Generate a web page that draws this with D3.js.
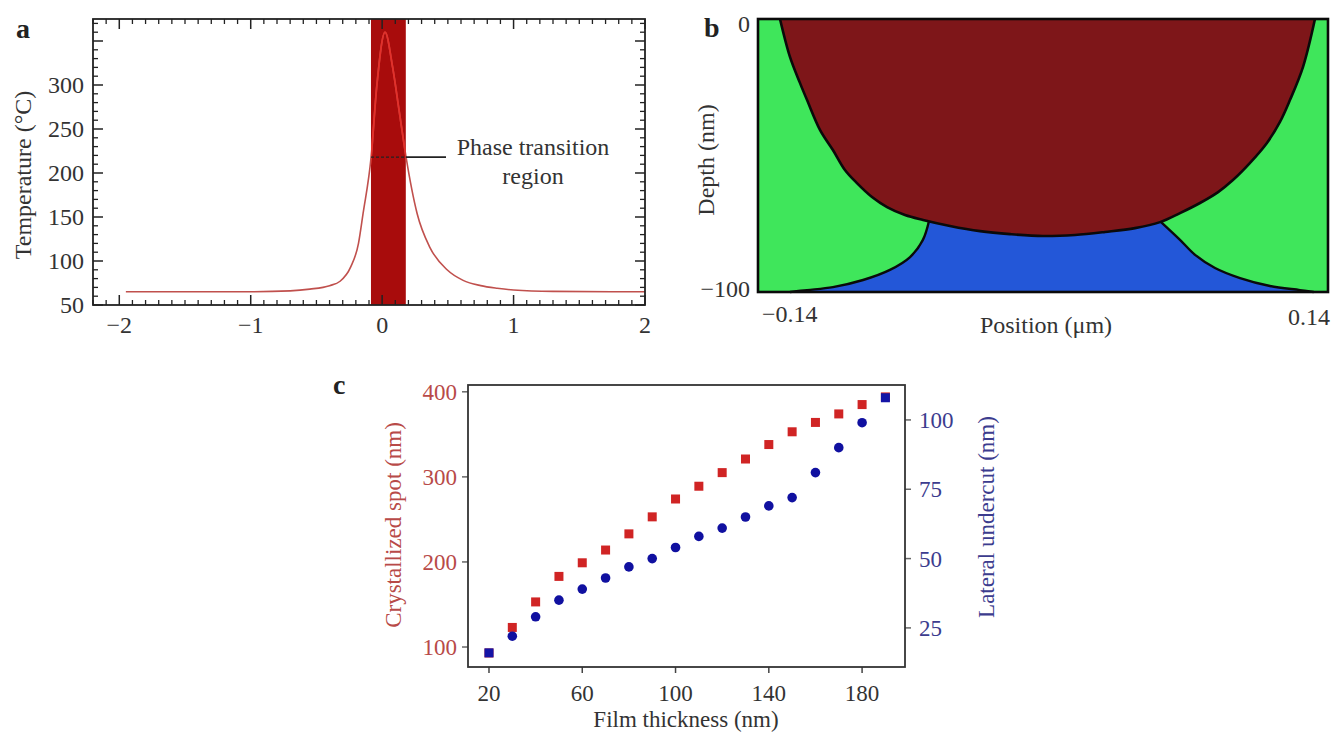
<!DOCTYPE html>
<html><head><meta charset="utf-8">
<script src="https://cdn.jsdelivr.net/npm/d3@7"></script>
<style>
html,body{margin:0;padding:0;background:#fff;}
svg{display:block;font-family:"Liberation Serif","Times New Roman",serif;}
</style></head>
<body>
<svg id="chart" width="1331" height="733"></svg>
<script>
// ---------- Panel a data ----------
const aTempX = [-1.95,-1.0,-0.7,-0.55,-0.4,-0.32,-0.24,-0.18,-0.145,-0.084,-0.04,0.022,0.08,0.13,0.182,0.266,0.365,0.494,0.616,0.75,0.875,1.0,1.3,2.0];
const aTempY = [65,65,66,68,72,77,93,120,154,218,300,360,320,270,218,154,115,90,78,72,69,67,65.5,65];
const aBand = [-0.085, 0.18];
const aTransitionT = 218;
const aXTicks = [-2,-1,0,1,2];
const aYTicks = [50,100,150,200,250,300];

// ---------- Panel b data (phase map boundaries) ----------
const bRedX = [-0.1292,-0.1243,-0.1194,-0.1159,-0.1095,-0.1032,-0.0973,-0.0914,-0.0840,-0.0766,-0.0678,-0.0589,-0.0457,-0.0309,-0.0162,0.0,0.0157,0.0305,0.0452,0.0575,0.0673,0.0771,0.0860,0.0933,0.1017,0.1100,0.1164,0.1213,0.1277,0.1336];
const bRedY = [0,-13.9,-23.4,-29.7,-40.7,-48.0,-55.3,-60.1,-65.2,-68.9,-71.8,-73.6,-75.8,-77.7,-78.8,-79.5,-79.1,-78.0,-76.6,-74.4,-71.1,-67.4,-63.4,-59.0,-52.7,-45.4,-37.7,-29.7,-17.6,0];
const bGreenLeftX = [-0.056,-0.059,-0.0653,-0.0752,-0.0884,-0.1032,-0.1159,-0.1243];
const bGreenLeftY = [-74,-80.9,-87.2,-91.9,-95.6,-98.2,-99.3,-100];
const bGreenRightX = [0.058,0.0673,0.0747,0.0845,0.0968,0.1115,0.1262,0.133];
const bGreenRightY = [-74.4,-80.9,-86.4,-91.2,-94.9,-97.8,-99.3,-100];
const bXTicks = [-0.14, 0.14];
const bYTicks = [0, -100];

// ---------- Panel c data ----------
const cThickness = [20,30,40,50,60,70,80,90,100,110,120,130,140,150,160,170,180,190];
const cSpot = [93,123,153,183,199,214,233,253,274,289,305,321,338,353,364,374,385,394];
const cUndercut = [16,22,29,35,39,43,47,50,54,58,61,65,69,72,81,90,99,108];
const cXTicks = [20,60,100,140,180];
const cLeftTicks = [100,200,300,400];
const cRightTicks = [25,50,75,100];

const svg = d3.select("#chart");
svg.append("rect").attr("width",1331).attr("height",733).attr("fill","#fff");
const fmt = v => (v<0 ? "\u2212" + Math.abs(v) : String(v));

function vTicks(g, vals, sc, y0, len, col, w){
  g.append("g").selectAll("line").data(vals).join("line")
   .attr("x1",d=>sc(d)).attr("x2",d=>sc(d)).attr("y1",y0).attr("y2",y0+len)
   .attr("stroke",col).attr("stroke-width",w);
}
function hTicks(g, vals, sc, x0, len, col, w){
  g.append("g").selectAll("line").data(vals).join("line")
   .attr("y1",d=>sc(d)).attr("y2",d=>sc(d)).attr("x1",x0).attr("x2",x0+len)
   .attr("stroke",col).attr("stroke-width",w);
}

// ================= Panel a =================
{
  const L=93,R=645,T=19,B=305;
  const x = d3.scaleLinear().domain([-2.2,2.0]).range([L,R]);
  const y = d3.scaleLinear().domain([50,375]).range([B,T]);
  const g = svg.append("g");
  const pts = aTempX.map((v,i)=>[v,aTempY[i]]);
  const line = d3.line().x(d=>x(d[0])).y(d=>y(d[1])).curve(d3.curveMonotoneX);

  g.append("rect").attr("x",x(aBand[0])).attr("y",T).attr("width",x(aBand[1])-x(aBand[0])).attr("height",B-T).attr("fill","#a80c0c");
  g.append("path").attr("d",line(pts)).attr("fill","none").attr("stroke","#c0504d").attr("stroke-width",1.6);
  svg.append("clipPath").attr("id","bandclip").append("rect").attr("x",x(aBand[0])).attr("y",T).attr("width",x(aBand[1])-x(aBand[0])).attr("height",B-T);
  g.append("path").attr("d",line(pts)).attr("fill","none").attr("stroke","#e3302a").attr("stroke-width",1.8).attr("clip-path","url(#bandclip)");

  const minorX = d3.range(-22,21).map(v=>v/10).filter(v=>Math.abs(v*10)%10!==0);
  const minorY = d3.range(60,376,10).filter(v=>v%50!==0);
  const majorY = d3.range(50,376,50);
  const tc="#222";
  vTicks(g, aXTicks, x, B, -10, tc, 1.5);
  vTicks(g, minorX, x, B, -5, tc, 1.3);
  vTicks(g, aXTicks, x, T, 10, tc, 1.5);
  vTicks(g, minorX, x, T, 5, tc, 1.3);
  hTicks(g, majorY, y, L, 10, tc, 1.5);
  hTicks(g, minorY, y, L, 5, tc, 1.3);
  hTicks(g, majorY, y, R, -10, tc, 1.5);
  hTicks(g, minorY, y, R, -5, tc, 1.3);
  g.append("rect").attr("x",L).attr("y",T).attr("width",R-L).attr("height",B-T).attr("fill","none").attr("stroke","#222").attr("stroke-width",1.8);

  g.append("g").selectAll("text").data(aXTicks).join("text").attr("x",d=>x(d)).attr("y",333).attr("text-anchor","middle").attr("font-size",24).attr("fill","#333").text(fmt);
  g.append("g").selectAll("text").data(aYTicks).join("text").attr("x",84).attr("y",d=>y(d)).attr("dy","0.35em").attr("text-anchor","end").attr("font-size",24).attr("fill","#333").text(fmt);
  g.append("text").attr("transform","translate(31,175) rotate(-90)").attr("text-anchor","middle").attr("font-size",24).attr("fill","#333").text("Temperature (\u00B0C)");
  g.append("text").attr("x",16).attr("y",38).attr("font-size",28).attr("font-weight","bold").attr("fill","#222").text("a");

  const ay = y(aTransitionT);
  g.append("line").attr("x1",x(aBand[0])).attr("x2",x(aBand[1])).attr("y1",ay).attr("y2",ay).attr("stroke","#222").attr("stroke-width",1.3).attr("stroke-dasharray","3,2");
  g.append("line").attr("x1",x(aBand[1])).attr("x2",446).attr("y1",ay).attr("y2",ay).attr("stroke","#222").attr("stroke-width",1.6);
  g.append("text").attr("x",533).attr("y",155).attr("text-anchor","middle").attr("font-size",24).attr("fill","#333").text("Phase transition");
  g.append("text").attr("x",533).attr("y",184).attr("text-anchor","middle").attr("font-size",24).attr("fill","#333").text("region");
}

// ================= Panel b =================
{
  const L=758,R=1328,T=19,B=292;
  const x = d3.scaleLinear().domain([-0.14,0.14]).range([L,R]);
  const y = d3.scaleLinear().domain([-100,0]).range([B,T]);
  const g = svg.append("g");
  const line = d3.line().x(d=>x(d[0])).y(d=>y(d[1])).curve(d3.curveCatmullRom.alpha(0.5));
  const red = bRedX.map((v,i)=>[v,bRedY[i]]);
  const gl = bGreenLeftX.map((v,i)=>[v,bGreenLeftY[i]]);
  const gr = bGreenRightX.map((v,i)=>[v,bGreenRightY[i]]);

  g.append("rect").attr("x",L).attr("y",T).attr("width",R-L).attr("height",B-T).attr("fill","#2357d8");
  const glPath = line(gl);
  g.append("path").attr("d", `M${x(-0.14)},${y(0)}L${x(-0.05)},${y(0)}L${x(gl[0][0])},${y(gl[0][1])}` + glPath.replace(/^M[^L C]+/,"") + `L${x(-0.14)},${y(-100)}Z`).attr("fill","#3fe65b");
  const grPath = line(gr);
  g.append("path").attr("d", `M${x(0.14)},${y(0)}L${x(0.05)},${y(0)}L${x(gr[0][0])},${y(gr[0][1])}` + grPath.replace(/^M[^L C]+/,"") + `L${x(0.14)},${y(-100)}Z`).attr("fill","#3fe65b");
  g.append("path").attr("d", line(red) + "Z").attr("fill","#7e1619");
  g.append("path").attr("d", line(red)).attr("fill","none").attr("stroke","#0a0a0a").attr("stroke-width",2.6);
  g.append("path").attr("d", glPath).attr("fill","none").attr("stroke","#0a0a0a").attr("stroke-width",2.4);
  g.append("path").attr("d", grPath).attr("fill","none").attr("stroke","#0a0a0a").attr("stroke-width",2.4);
  g.append("rect").attr("x",L).attr("y",T).attr("width",R-L).attr("height",B-T).attr("fill","none").attr("stroke","#0a0a0a").attr("stroke-width",2.6);

  g.append("text").attr("x",L+4).attr("y",322).attr("font-size",24).attr("fill","#333").attr("text-anchor","start").text(fmt(bXTicks[0]));
  g.append("text").attr("x",1330).attr("y",325).attr("font-size",24).attr("fill","#333").attr("text-anchor","end").text(fmt(bXTicks[1]));
  g.append("g").selectAll("text").data(bYTicks).join("text").attr("x",750).attr("y",d=>y(d)).attr("dy", d=> d===0 ? "0.55em" : "0.2em").attr("text-anchor","end").attr("font-size",24).attr("fill","#333").text(fmt);
  g.append("text").attr("x",1046).attr("y",333).attr("text-anchor","middle").attr("font-size",24).attr("fill","#333").text("Position (\u03BCm)");
  g.append("text").attr("transform","translate(714,160) rotate(-90)").attr("text-anchor","middle").attr("font-size",24).attr("fill","#333").text("Depth (nm)");
  g.append("text").attr("x",704).attr("y",37).attr("font-size",28).attr("font-weight","bold").attr("fill","#222").text("b");
}

// ================= Panel c =================
{
  const L=468,R=905,T=385,B=667;
  const x = d3.scaleLinear().domain([11,198.4]).range([L,R]);
  const yL = d3.scaleLinear().domain([76.5,408]).range([B,T]);
  const yR = d3.scaleLinear().domain([10.9,112.6]).range([B,T]);
  const g = svg.append("g");
  const redC="#b84a48", blueC="#3c3c8e";

  vTicks(g, cXTicks, x, B, 6, "#444", 1.5);
  hTicks(g, cLeftTicks, yL, L, -6, "#666", 1.5);
  hTicks(g, cRightTicks, yR, R, 6, "#666", 1.5);
  g.append("g").selectAll("text").data(cXTicks).join("text").attr("x",d=>x(d)).attr("y",701).attr("text-anchor","middle").attr("font-size",23).attr("fill","#333").text(d=>d);
  g.append("g").selectAll("text").data(cLeftTicks).join("text").attr("x",457).attr("y",d=>yL(d)).attr("dy","0.35em").attr("text-anchor","end").attr("font-size",23).attr("fill",redC).text(d=>d);
  g.append("g").selectAll("text").data(cRightTicks).join("text").attr("x",919).attr("y",d=>yR(d)).attr("dy","0.35em").attr("text-anchor","start").attr("font-size",23).attr("fill",blueC).text(d=>d);
  g.append("rect").attr("x",L).attr("y",T).attr("width",R-L).attr("height",B-T).attr("fill","none").attr("stroke","#333").attr("stroke-width",1.8);

  const s=9;
  g.append("g").selectAll("rect").data(cThickness).join("rect").attr("x",(d)=>x(d)-s/2).attr("y",(d,i)=>yL(cSpot[i])-s/2).attr("width",s).attr("height",s).attr("fill","#d02424");
  const last = cThickness.length-1;
  g.append("g").selectAll("g").data(cThickness).join("g").each(function(d,i){
    const gg=d3.select(this);
    if(i===0||i===last){
      gg.append("rect").attr("x",x(d)-s/2).attr("y",yR(cUndercut[i])-s/2).attr("width",s).attr("height",s).attr("fill","#1414a6");
    } else {
      gg.append("circle").attr("cx",x(d)).attr("cy",yR(cUndercut[i])).attr("r",4.8).attr("fill","#1010a0");
    }
  });

  g.append("text").attr("x",686).attr("y",727).attr("text-anchor","middle").attr("font-size",23).attr("fill","#333").text("Film thickness (nm)");
  g.append("text").attr("transform","translate(401,525) rotate(-90)").attr("text-anchor","middle").attr("font-size",23).attr("fill",redC).text("Crystallized spot (nm)");
  g.append("text").attr("transform","translate(994,517) rotate(-90)").attr("text-anchor","middle").attr("font-size",23).attr("fill",blueC).text("Lateral undercut (nm)");
  g.append("text").attr("x",333).attr("y",394).attr("font-size",28).attr("font-weight","bold").attr("fill","#222").text("c");
}
</script>
</body></html>
